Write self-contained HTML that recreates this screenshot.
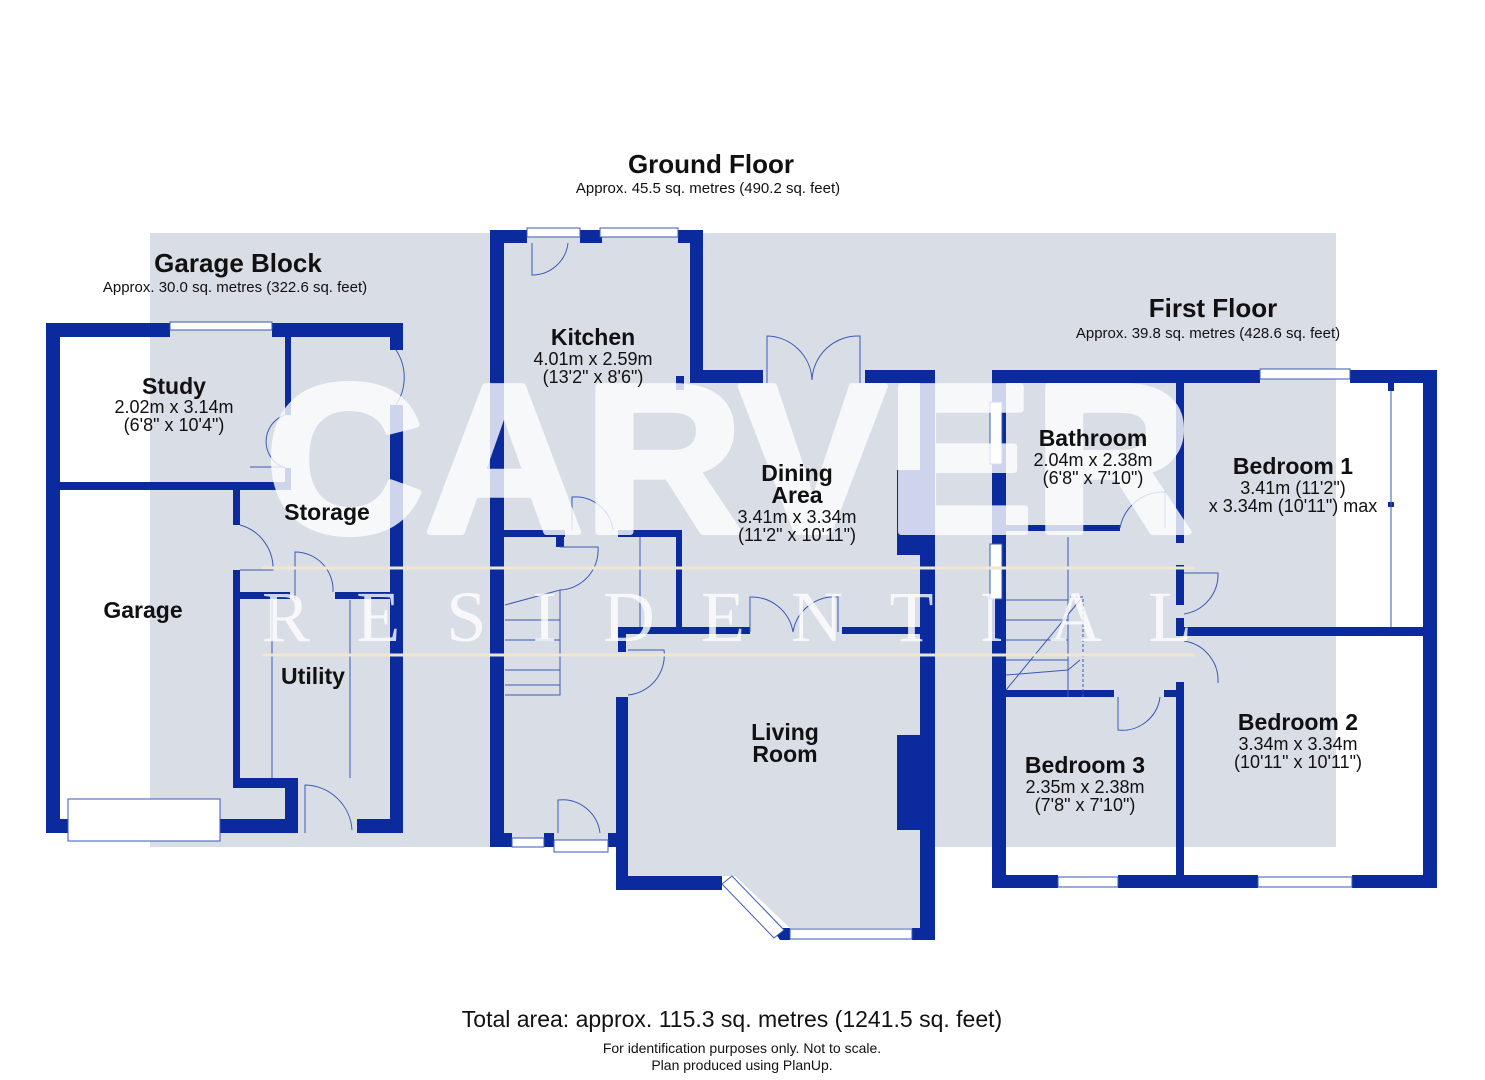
<!DOCTYPE html>
<html><head><meta charset="utf-8"><style>
html,body{margin:0;padding:0;background:#fff;}
svg{display:block;}
text{font-family:"Liberation Sans",sans-serif;fill:#111;}
.b{font-weight:bold;}
</style></head><body>
<svg width="1485" height="1080" viewBox="0 0 1485 1080" xmlns="http://www.w3.org/2000/svg">
<rect x="150" y="233" width="1186" height="614" fill="#d9dde6"/>
<rect x="60" y="337" width="90" height="482" fill="#fff"/>
<rect x="1336" y="383" width="87" height="492" fill="#fff"/>
<rect x="628" y="847" width="292" height="93" fill="#fff"/>
<polygon points="628,847 920,847 920,928 790,928 735,876 628,876" fill="#d9dde6"/>
<g fill="#0a2a9e">
<rect x="46" y="323" width="14" height="510"/>
<rect x="46" y="323" width="124" height="14"/>
<rect x="272" y="323" width="131" height="14"/>
<rect x="390" y="323" width="13" height="27"/>
<rect x="390" y="405" width="13" height="428"/>
<rect x="46" y="819" width="22" height="14"/>
<rect x="220" y="819" width="78" height="14"/>
<rect x="357" y="819" width="46" height="14"/>
<rect x="60" y="482" width="230" height="8"/>
<rect x="285" y="337" width="6" height="78"/>
<rect x="285" y="468" width="6" height="22"/>
<rect x="233" y="490" width="7" height="35"/>
<rect x="233" y="570" width="7" height="218"/>
<rect x="233" y="592" width="57" height="7"/>
<rect x="335" y="592" width="55" height="7"/>
<rect x="233" y="778" width="65" height="10"/>
<rect x="285" y="778" width="13" height="55"/>
<rect x="490" y="230" width="14" height="617"/>
<rect x="490" y="230" width="37" height="13"/>
<rect x="580" y="230" width="22" height="13"/>
<rect x="678" y="230" width="25" height="13"/>
<rect x="690" y="230" width="13" height="153"/>
<rect x="690" y="370" width="73" height="13"/>
<rect x="676" y="376" width="8" height="14"/>
<rect x="865" y="370" width="70" height="13"/>
<rect x="920" y="370" width="15" height="570"/>
<rect x="897" y="470" width="23" height="85"/>
<rect x="897" y="735" width="23" height="95"/>
<rect x="504" y="530" width="61" height="7"/>
<rect x="556" y="537" width="8" height="10"/>
<rect x="618" y="530" width="63" height="7"/>
<rect x="676" y="530" width="6" height="100"/>
<rect x="625" y="627" width="125" height="7"/>
<rect x="842" y="627" width="78" height="7"/>
<rect x="618" y="627" width="8" height="25"/>
<rect x="616" y="697" width="12" height="193"/>
<rect x="490" y="833" width="22" height="14"/>
<rect x="544" y="833" width="10" height="14"/>
<rect x="608" y="833" width="20" height="14"/>
<rect x="616" y="876" width="106" height="14"/>
<polygon points="772,928 790,928 790,940 780,940"/>
<rect x="912" y="928" width="23" height="12"/>
<rect x="992" y="370" width="14" height="518"/>
<rect x="992" y="370" width="268" height="13"/>
<rect x="1350" y="370" width="87" height="13"/>
<rect x="1423" y="370" width="14" height="518"/>
<rect x="992" y="875" width="66" height="13"/>
<rect x="1118" y="875" width="140" height="13"/>
<rect x="1352" y="875" width="85" height="13"/>
<rect x="1176" y="383" width="8" height="160"/>
<rect x="1176" y="565" width="8" height="40"/>
<rect x="1176" y="618" width="8" height="18"/>
<rect x="1176" y="682" width="8" height="193"/>
<rect x="1176" y="627" width="247" height="9"/>
<rect x="1006" y="525" width="114" height="6"/>
<rect x="1006" y="690" width="108" height="7"/>
<rect x="1164" y="690" width="12" height="7"/>
<rect x="1388" y="383" width="6" height="8"/>
<rect x="1388" y="502" width="6" height="5"/>
</g>
<g fill="#fff" stroke="#3a5ab5" stroke-width="1">
<rect x="170" y="322" width="102" height="8"/>
<rect x="600" y="228" width="78" height="9"/>
<rect x="527" y="228" width="53" height="9"/>
<rect x="68" y="799" width="152" height="42"/>
<rect x="512" y="838" width="32" height="9"/>
<rect x="554" y="840" width="54" height="12"/>
<rect x="790" y="929" width="122" height="10"/>
<rect x="1260" y="369" width="90" height="10"/>
<rect x="1058" y="877" width="60" height="10"/>
<rect x="1258" y="877" width="94" height="10"/>
<rect x="990" y="402" width="12" height="62"/>
<rect x="990" y="544" width="12" height="55"/>
<polygon points="722,884 732,876 784,930 774,938"/>
</g>
<g fill="none" stroke="#3a5ab5" stroke-width="1">
<path d="M396 350 A50 50 0 0 1 396 405"/>
<path d="M285 415 A28 28 0 0 0 285 468 M250 467 L285 467"/>
<path d="M240 525 A45 45 0 0 1 273 570 L240 570"/>
<path d="M295 600 L295 552 A38 38 0 0 1 333 592"/>
<path d="M305 833 L305 785 A48 48 0 0 1 352 830"/>
<path d="M532 243 L532 275 A36 36 0 0 0 568 243"/>
<path d="M767 383 L767 336 A46 46 0 0 1 812 380 A46 46 0 0 1 860 336 L860 383"/>
<path d="M572 530 L572 497 A38 38 0 0 1 613 530"/>
<path d="M560 547 L598 547 A40 40 0 0 1 560 590"/>
<path d="M750 632 L750 597 A42 42 0 0 1 793 632 A42 42 0 0 1 838 597 L838 632"/>
<path d="M628 650 L664 650 A40 40 0 0 1 628 695"/>
<path d="M558 833 L558 800 A38 38 0 0 1 600 833"/>
<path d="M640 537 L640 627"/>
<path d="M1120 528 A44 44 0 0 1 1165 492 L1165 528"/>
<path d="M1184 573 L1218 573 A40 40 0 0 1 1184 614"/>
<path d="M1184 641 A40 40 0 0 1 1218 683"/>
<path d="M1118 697 L1118 730 A38 38 0 0 0 1160 697"/>
<path d="M1068 537 L1068 697 M1006 600 L1068 600 M1006 620 L1068 620 M1006 640 L1068 640 M1006 660 L1068 660 M1006 675 L1068 670 L1080 660 M1006 690 L1080 600"/>
<path d="M1070 597 L1083 597 L1083 697" stroke-dasharray="3 2"/>
<path d="M505 605 L560 590 L560 695 L505 695 M505 640 L560 640 M505 655 L560 655 M505 670 L560 670 M505 685 L560 685 M505 620 L560 620"/>
<path d="M272 600 L272 778 M350 600 L350 778 M1391 391 L1391 627"/>
</g>
<line x1="262" y1="568" x2="1195" y2="568" stroke="#efe6d2" stroke-width="3"/>
<line x1="262" y1="655" x2="1195" y2="655" stroke="#efe6d2" stroke-width="3"/>
<g opacity="0.8">
<text x="265" y="532" textLength="928" lengthAdjust="spacingAndGlyphs" style="font-size:212px;font-weight:bold;fill:#fff;stroke:#fff;stroke-width:6;stroke-linejoin:round">CARVER</text>
</g>
<text x="262" y="641" textLength="930" lengthAdjust="spacing" style="font-family:'Liberation Serif',serif;font-size:72px;fill:#fff;fill-opacity:0.8">RESIDENTIAL</text>
<g text-anchor="middle">
<text x="711" y="173" class="b" font-size="26">Ground Floor</text>
<text x="708" y="193" font-size="15">Approx. 45.5 sq. metres (490.2 sq. feet)</text>
<text x="238" y="272" class="b" font-size="26">Garage Block</text>
<text x="235" y="292" font-size="15">Approx. 30.0 sq. metres (322.6 sq. feet)</text>
<text x="1213" y="317" class="b" font-size="26">First Floor</text>
<text x="1208" y="338" font-size="15">Approx. 39.8 sq. metres (428.6 sq. feet)</text>
<text x="174" y="394" class="b" font-size="23">Study</text>
<text x="174" y="413" font-size="18">2.02m x 3.14m</text>
<text x="174" y="431" font-size="18">(6'8" x 10'4")</text>
<text x="327" y="520" class="b" font-size="23">Storage</text>
<text x="143" y="618" class="b" font-size="23">Garage</text>
<text x="313" y="684" class="b" font-size="23">Utility</text>
<text x="593" y="345" class="b" font-size="23">Kitchen</text>
<text x="593" y="365" font-size="18">4.01m x 2.59m</text>
<text x="593" y="383" font-size="18">(13'2" x 8'6")</text>
<text x="797" y="481" class="b" font-size="23">Dining</text>
<text x="797" y="503" class="b" font-size="23">Area</text>
<text x="797" y="523" font-size="18">3.41m x 3.34m</text>
<text x="797" y="541" font-size="18">(11'2" x 10'11")</text>
<text x="785" y="740" class="b" font-size="23">Living</text>
<text x="785" y="762" class="b" font-size="23">Room</text>
<text x="1093" y="446" class="b" font-size="23">Bathroom</text>
<text x="1093" y="466" font-size="18">2.04m x 2.38m</text>
<text x="1093" y="484" font-size="18">(6'8" x 7'10")</text>
<text x="1293" y="474" class="b" font-size="23">Bedroom 1</text>
<text x="1293" y="494" font-size="18">3.41m (11'2")</text>
<text x="1293" y="512" font-size="18">x 3.34m (10'11") max</text>
<text x="1298" y="730" class="b" font-size="23">Bedroom 2</text>
<text x="1298" y="750" font-size="18">3.34m x 3.34m</text>
<text x="1298" y="768" font-size="18">(10'11" x 10'11")</text>
<text x="1085" y="773" class="b" font-size="23">Bedroom 3</text>
<text x="1085" y="793" font-size="18">2.35m x 2.38m</text>
<text x="1085" y="811" font-size="18">(7'8" x 7'10")</text>
<text x="732" y="1027" font-size="23">Total area: approx. 115.3 sq. metres (1241.5 sq. feet)</text>
<text x="742" y="1053" font-size="14">For identification purposes only. Not to scale.</text>
<text x="742" y="1070" font-size="14">Plan produced using PlanUp.</text>
</g>
</svg>
</body></html>
